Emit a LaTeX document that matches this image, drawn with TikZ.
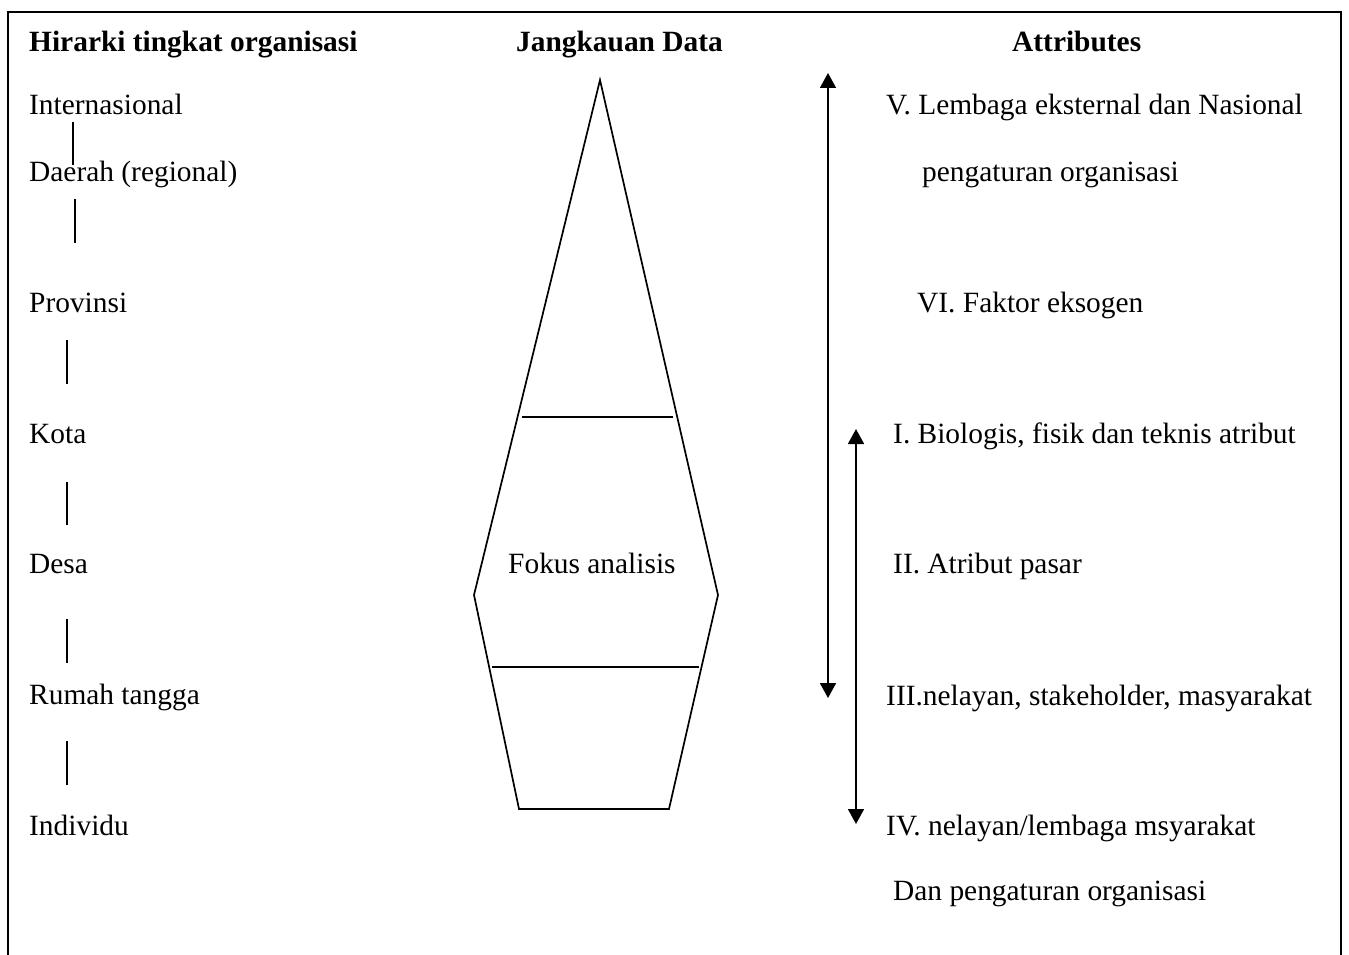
\documentclass[tikz,border=0pt]{standalone}
\usepackage{fontspec}
\setmainfont{Liberation Serif}
\usetikzlibrary{arrows.meta}
\begin{document}
\begin{tikzpicture}[x=1pt,y=-1pt,
  lbl/.style={anchor=base west,inner sep=0pt,font=\fontsize{29.4}{34}\selectfont},
  hdr/.style={lbl,font=\fontsize{29.4}{34}\selectfont\bfseries},
  ink/.style={line width=1.7pt,black},
  link/.style={ink},
  spanarrow/.style={ink,{Triangle[length=15pt,width=16pt]}-{Triangle[length=15pt,width=16pt]}}]
\useasboundingbox (0,0) rectangle (1349,955);
% outer frame, open at the bottom
\draw[ink] (8,960) -- (8,12) -- (1341,12) -- (1341,960);

% column headings
\node[hdr] (h1) at (29,52) {Hirarki tingkat organisasi};
\node[hdr] (h2) at (516,52) {Jangkauan Data};
\node[hdr] (h3) at (1012,52) {Attributes};

% organisational levels
\node[lbl] (intl) at (29,115) {Internasional};
\node[lbl] (reg)  at (29,182) {Daerah (regional)};
\node[lbl] (prov) at (29,312) {Provinsi};
\node[lbl] (kota) at (29,443) {Kota};
\node[lbl] (desa) at (29,573) {Desa};
\node[lbl] (rt)   at (29,704) {Rumah tangga};
\node[lbl] (ind)  at (29,835) {Individu};

% short links between levels
\coordinate (l1a) at (73,122);  \coordinate (l1b) at (73,165);
\coordinate (l2a) at (75,199);  \coordinate (l2b) at (75,243);
\coordinate (l3a) at (67,340);  \coordinate (l3b) at (67,384);
\coordinate (l4a) at (67,482);  \coordinate (l4b) at (67,525);
\coordinate (l5a) at (67,619);  \coordinate (l5b) at (67,663);
\coordinate (l6a) at (67,741);  \coordinate (l6b) at (67,785);
\foreach \i in {1,...,6} \draw[link] (l\i a) -- (l\i b);

% data-range shape
\coordinate (apex) at (600,80);
\coordinate (wl) at (474,595);
\coordinate (wr) at (718,595);
\coordinate (bl) at (519,809);
\coordinate (br) at (669,809);
\draw[ink,line join=miter] (apex) -- (wr) -- (br) -- (bl) -- (wl) -- cycle;
\coordinate (u1) at (522,417); \coordinate (u2) at (673,417);
\coordinate (d1) at (492,667); \coordinate (d2) at (699,667);
\draw[ink] (u1) -- (u2);
\draw[ink] (d1) -- (d2);
\node[lbl] (fokus) at (508,573) {Fokus analisis};

% range arrows
\coordinate (a1t) at (828,73);  \coordinate (a1b) at (828,698);
\coordinate (a2t) at (856,429); \coordinate (a2b) at (856,824);
\draw[spanarrow] (a1t) -- (a1b);
\draw[spanarrow] (a2t) -- (a2b);

% attributes
\node[lbl] (v)    at (886,115) {V. Lembaga eksternal dan Nasional};
\node[lbl] (v2)   at (922,181) {pengaturan organisasi};
\node[lbl] (vi)   at (917,312) {VI. Faktor eksogen};
\node[lbl] (i)    at (893,443) {I. Biologis, fisik dan teknis atribut};
\node[lbl] (ii)   at (893,573) {II. Atribut pasar};
\node[lbl] (iii)  at (886,705) {III.nelayan, stakeholder, masyarakat};
\node[lbl] (iv)   at (886,835) {IV. nelayan/lembaga msyarakat};
\node[lbl] (iv2)  at (893,900) {Dan pengaturan organisasi};
\end{tikzpicture}
\end{document}
